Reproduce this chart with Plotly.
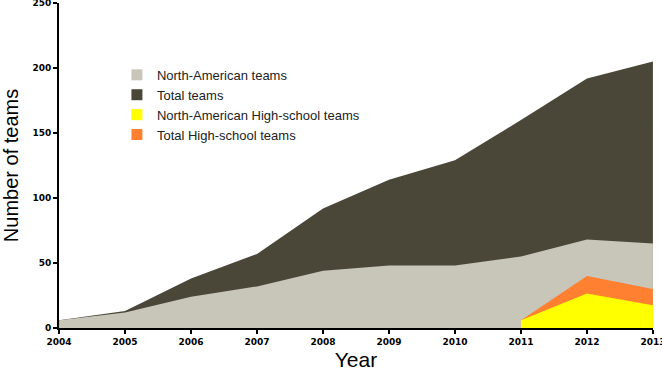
import plotly.graph_objects as go

years = [2004, 2005, 2006, 2007, 2008, 2009, 2010, 2011, 2012, 2013]
total_teams = [6, 13, 38, 57, 92, 114, 129, 160, 192, 205]
na_teams = [6, 12, 24, 32, 44, 48, 48, 55, 68, 65]
hs_years = [2011, 2012, 2013]
total_hs = [6, 40, 30]
na_hs = [6, 26.5, 17.5]
y_ticks = [0, 50, 100, 150, 200, 250]

c_total = "#4a4739"
c_na = "#c8c5b9"
c_nahs = "#ffff00"
c_ths = "#ff8030"

fig = go.Figure()

def area(x, y, color):
    fig.add_trace(go.Scatter(x=x, y=y, mode="lines", fill="tozeroy",
                             line=dict(width=0, color=color), fillcolor=color,
                             showlegend=False, hoverinfo="skip", cliponaxis=False))

area(years, total_teams, c_total)
area(years, na_teams, c_na)
area(hs_years, total_hs, c_ths)
area(hs_years, na_hs, c_nahs)

for name, color in [("North-American teams", c_na), ("Total teams", c_total),
                    ("North-American High-school teams", c_nahs),
                    ("Total High-school teams", c_ths)]:
    fig.add_trace(go.Scatter(x=[None], y=[None], mode="markers", name=name,
                             marker=dict(symbol="square", size=11, color=color)))

fig.update_layout(
    width=662, height=373,
    margin=dict(l=59, r=9, t=3, b=45, autoexpand=False),
    plot_bgcolor="white", paper_bgcolor="white",
    showlegend=True,
    legend=dict(x=0.0975, y=0.825, xanchor="left", yanchor="top",
                font=dict(family="Liberation Sans, Arial", size=13, color="#222"),
                bgcolor="rgba(0,0,0,0)", tracegroupgap=0),
    font=dict(family="Liberation Sans, Arial"),
)
fig.update_xaxes(range=[2003.999, 2013.001], tickvals=years, ticktext=[str(y) for y in years],
                 automargin=False, ticklabeloverflow="allow",
                 showgrid=False, zeroline=False, showline=True, linecolor="black", linewidth=2,
                 ticks="outside", ticklen=4, tickwidth=2, tickcolor="black",
                 tickfont=dict(family="DejaVu Sans", size=9, color="black", weight="bold"),
                 title=dict(text="Year", font=dict(family="Liberation Sans, Arial", size=21, color="black"), standoff=7))
fig.update_yaxes(range=[0, 250.01], tickvals=y_ticks,
                 automargin=False, ticklabeloverflow="allow",
                 showgrid=False, zeroline=False, showline=True, linecolor="black", linewidth=2,
                 ticks="outside", ticklen=4, tickwidth=2, tickcolor="black",
                 tickfont=dict(family="DejaVu Sans", size=9, color="black", weight="bold"),
                 title=dict(text="Number of teams", font=dict(family="Liberation Sans, Arial", size=20, color="black"), standoff=8))

fig.write_html("out.html", config={"displayModeBar": False},
               post_script="document.body.style.margin='0';")
